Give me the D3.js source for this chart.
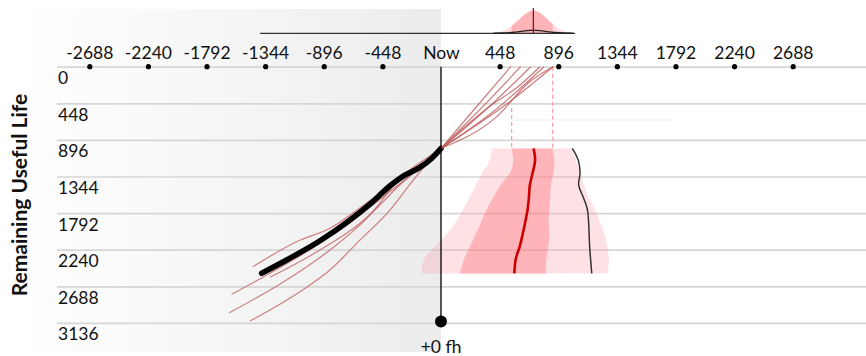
<!DOCTYPE html>
<html>
<head>
<meta charset="utf-8">
<script src="https://cdn.jsdelivr.net/npm/d3@7"></script>
<style>
  html, body { margin: 0; padding: 0; background: #fff; }
  svg { display: block; font-family: Lato, "Open Sans", sans-serif; }
</style>
</head>
<body>
<svg id="chart" width="866" height="356"></svg>
<script>
// ---- axis ticks (flight hours) ----
const xTicks = [-2688, -2240, -1792, -1344, -896, -448, 0, 448, 896, 1344, 1792, 2240, 2688];
const yTicks = [0, 448, 896, 1344, 1792, 2240, 2688, 3136];

// ---- observed remaining-useful-life history: [time, RUL] ----
const historyLine = [[-1371, 2529], [-1180, 2366], [-925, 2131], [-721, 1907], [-543, 1682],
                     [-380, 1445], [-280, 1330], [-165, 1235], [-70, 1120], [0, 1000]];

// ---- earlier predicted trajectories ----
const pastRuns = [
  [[-1437, 2448], [-1100, 2140], [-849, 1978], [-518, 1610], [-300, 1370], [-109, 1142], [0, 1000]],
  [[-1601, 2786], [-1307, 2529], [-925, 2161], [-670, 1876], [-450, 1600], [-250, 1350], [0, 1000]],
  [[-1618, 3011], [-1180, 2611], [-849, 2244], [-543, 1816], [-313, 1366], [-120, 1130], [0, 1000]],
  [[-1460, 3113], [-1078, 2754], [-849, 2489], [-619, 2122], [-390, 1755], [-212, 1387], [-59, 1101], [0, 1000]],
  [[-1307, 2578], [-925, 2244], [-619, 1917], [-492, 1733], [-330, 1470], [-150, 1220], [0, 1000]]
];

// ---- forecast trajectories from now until end of life ----
const forecastRuns = [
  [[0, 1000], [250, 530], [533, 0]],
  [[0, 1000], [300, 520], [609, 0]],
  [[0, 1000], [340, 530], [686, 0]],
  [[0, 1000], [360, 500], [600, 230], [755, 0]],
  [[0, 1000], [398, 551], [787, 0]],
  [[0, 1000], [525, 428], [856, 0]],
  [[0, 1000], [420, 620], [678, 184], [856, 0]]
];

// ---- predicted end-of-life distribution per RUL level ----
const bandRUL   = [1000, 1150, 1300, 1450, 1600, 1750, 1900, 2050, 2200, 2350, 2530];
const outerLow  = [388, 372, 313, 265, 219, 168, 115, 40, -45, -128, -148];
const innerLow  = [540, 552, 528, 456, 399, 349, 305, 266, 220, 178, 145];
const medianEOL = [708, 719, 700, 679, 672, 662, 644, 624, 602, 572, 560];
const innerHigh = [851, 866, 859, 839, 833, 828, 823, 829, 820, 805, 800];
const outerHigh = [999, 1033, 1064, 1092, 1128, 1177, 1213, 1250, 1270, 1283, 1274];
const refEOL    = [1004, 1050, 1063, 1052, 1088, 1119, 1128, 1132, 1136, 1143, 1152];

// ---- end-of-life density at the current time ----
const densityT     = [398, 474, 540, 604, 655, 706, 757, 808, 872, 935, 1011];
const densityRed   = [0, 0.07, 0.28, 0.62, 0.86, 1, 0.86, 0.62, 0.28, 0.07, 0];
const densityBlack = [0, 0.01, 0.03, 0.07, 0.11, 0.14, 0.11, 0.07, 0.03, 0.01, 0];
const densityMedian = 706;
const densitySpan = [-1383, 1024];
const innerSpan = [540, 854];

const svg = d3.select("#chart");

const x = d3.scaleLinear().domain([-2688, 2688]).range([89.3, 792.7]);
const y = d3.scaleLinear().domain([0, 3136]).range([66.7, 322.9]);
const dy = d3.scaleLinear().domain([0, 1]).range([33.3, 9.3]);

// shaded "past" panel
const defs = svg.append("defs");
const grad = defs.append("linearGradient").attr("id", "past").attr("x1", 0).attr("x2", 1).attr("y1", 0).attr("y2", 0);
grad.append("stop").attr("offset", "0%").attr("stop-color", "#ffffff");
grad.append("stop").attr("offset", "100%").attr("stop-color", "#ececec");
svg.append("rect").attr("x", 20).attr("y", 9).attr("width", x(0) - 20).attr("height", 343)
  .attr("fill", "url(#past)");

// horizontal grid + RUL labels
const yAxis = d3.axisRight(y).tickValues(yTicks).tickSize(866 - 57).tickFormat(d3.format("d"));
const gy = svg.append("g").attr("transform", "translate(57,0)").call(yAxis);
gy.select(".domain").remove();
gy.selectAll(".tick line").attr("stroke", "#d6d6d6").attr("stroke-width", 1.7);
gy.selectAll(".tick text").attr("x", 1).attr("y", 17).attr("dy", null)
  .attr("text-anchor", "start").attr("fill", "#111").attr("font-size", 17.5)
  .attr("font-family", "Lato, sans-serif");

// time axis labels + dot ticks
const xAxis = d3.axisTop(x).tickValues(xTicks).tickSize(0).tickPadding(8)
  .tickFormat(d => d === 0 ? "Now" : String(d));
const gx = svg.append("g").attr("transform", `translate(0,${y(0)})`).call(xAxis);
gx.select(".domain").remove();
gx.selectAll(".tick text").attr("fill", "#111").attr("font-size", 17.5).attr("font-family", "Lato, sans-serif");
gx.selectAll(".tick").filter(d => d !== 0).append("circle").attr("r", 2.6).attr("fill", "#000");

// faint guide rule
svg.append("line").attr("x1", x(543)).attr("x2", x(1774)).attr("y1", y(653)).attr("y2", y(653))
  .attr("stroke", "#efefef").attr("stroke-width", 1);

// end-of-life band
const rows = bandRUL.map((r, i) => ({ r, ol: outerLow[i], il: innerLow[i], m: medianEOL[i], ih: innerHigh[i], oh: outerHigh[i], ref: refEOL[i] }));
const curve = d3.curveCatmullRom;
svg.append("path").datum(rows)
  .attr("d", d3.area().curve(curve).y(d => y(d.r)).x0(d => x(d.ol)).x1(d => x(d.oh)))
  .attr("fill", "#fc9ca4").attr("fill-opacity", 0.3);
svg.append("path").datum(rows)
  .attr("d", d3.area().curve(curve).y(d => y(d.r)).x0(d => x(d.il)).x1(d => x(d.ih)))
  .attr("fill", "#ff787d").attr("fill-opacity", 0.43);
svg.append("path").datum(rows)
  .attr("d", d3.line().curve(curve).y(d => y(d.r)).x(d => x(d.m)))
  .attr("fill", "none").attr("stroke", "#cc0000").attr("stroke-width", 2.6);
svg.append("path").datum(rows)
  .attr("d", d3.line().curve(curve).y(d => y(d.r)).x(d => x(d.ref)))
  .attr("fill", "none").attr("stroke", "#333").attr("stroke-width", 1.5);

// dashed quantile guides
svg.append("line").attr("x1", x(innerSpan[0])).attr("x2", x(innerSpan[0]))
  .attr("y1", y(505)).attr("y2", y(bandRUL[0]))
  .attr("stroke", "#f7a0a4").attr("stroke-width", 1.3).attr("stroke-dasharray", "4,3");
svg.append("line").attr("x1", x(innerSpan[1])).attr("x2", x(innerSpan[1]))
  .attr("y1", y(0)).attr("y2", y(bandRUL[0]))
  .attr("stroke", "#f7a0a4").attr("stroke-width", 1.3).attr("stroke-dasharray", "4,3");

// earlier predictions
const tl = d3.line().curve(d3.curveMonotoneX).x(d => x(d[0])).y(d => y(d[1]));
svg.append("g").selectAll("path").data(pastRuns).join("path")
  .attr("d", tl).attr("fill", "none").attr("stroke", "#bf5a5a").attr("stroke-opacity", 0.75).attr("stroke-width", 1.2);

// observed history
svg.append("path").datum(historyLine)
  .attr("d", d3.line().curve(d3.curveMonotoneX).x(d => x(d[0])).y(d => y(d[1])))
  .attr("fill", "none").attr("stroke", "#000").attr("stroke-width", 5.5)
  .attr("stroke-linecap", "round").attr("stroke-linejoin", "round");

// forecast trajectories
svg.append("g").selectAll("path").data(forecastRuns).join("path")
  .attr("d", d3.line().curve(d3.curveMonotoneX).x(d => x(d[0])).y(d => y(d[1])))
  .attr("fill", "none").attr("stroke", "#bf5a5a").attr("stroke-opacity", 0.8).attr("stroke-width", 1.2);

// "now" marker
svg.append("line").attr("x1", x(0)).attr("x2", x(0)).attr("y1", y(0)).attr("y2", y(3136) - 1)
  .attr("stroke", "#000").attr("stroke-width", 1.3);
svg.append("circle").attr("cx", x(0)).attr("cy", y(3136) - 1.5).attr("r", 6).attr("fill", "#000");
svg.append("text").attr("x", x(0)).attr("y", 353).attr("text-anchor", "middle")
  .attr("font-size", 17.5).attr("fill", "#111").text("+0 fh");

// density of end of life
const dens = densityT.map((t, i) => ({ t, red: densityRed[i], black: densityBlack[i] }));
defs.append("clipPath").attr("id", "inner").append("rect")
  .attr("x", x(innerSpan[0])).attr("width", x(innerSpan[1]) - x(innerSpan[0]))
  .attr("y", 0).attr("height", 40);
const da = d3.area().curve(d3.curveBasis).x(d => x(d.t)).y0(dy(0)).y1(d => dy(d.red));
svg.append("path").datum(dens).attr("d", da).attr("fill", "#fc9ca4").attr("fill-opacity", 0.35);
svg.append("path").datum(dens).attr("d", da).attr("fill", "#ff787d").attr("fill-opacity", 0.4)
  .attr("clip-path", "url(#inner)");
svg.append("line").attr("x1", x(densitySpan[0])).attr("x2", x(densitySpan[1]))
  .attr("y1", dy(0)).attr("y2", dy(0)).attr("stroke", "#333").attr("stroke-width", 1.2);
svg.append("path").datum(dens)
  .attr("d", d3.line().curve(d3.curveBasis).x(d => x(d.t)).y(d => dy(d.black)))
  .attr("fill", "none").attr("stroke", "#222").attr("stroke-width", 1.3);
svg.append("line").attr("x1", x(densityMedian)).attr("x2", x(densityMedian))
  .attr("y1", 8).attr("y2", dy(0)).attr("stroke", "#b30000").attr("stroke-width", 1.3);

// y-axis title
svg.append("text").attr("transform", "translate(27,195) rotate(-90)")
  .attr("text-anchor", "middle").attr("font-weight", "bold").attr("font-size", 21)
  .attr("fill", "#111").text("Remaining Useful Life");
</script>
</body>
</html>
